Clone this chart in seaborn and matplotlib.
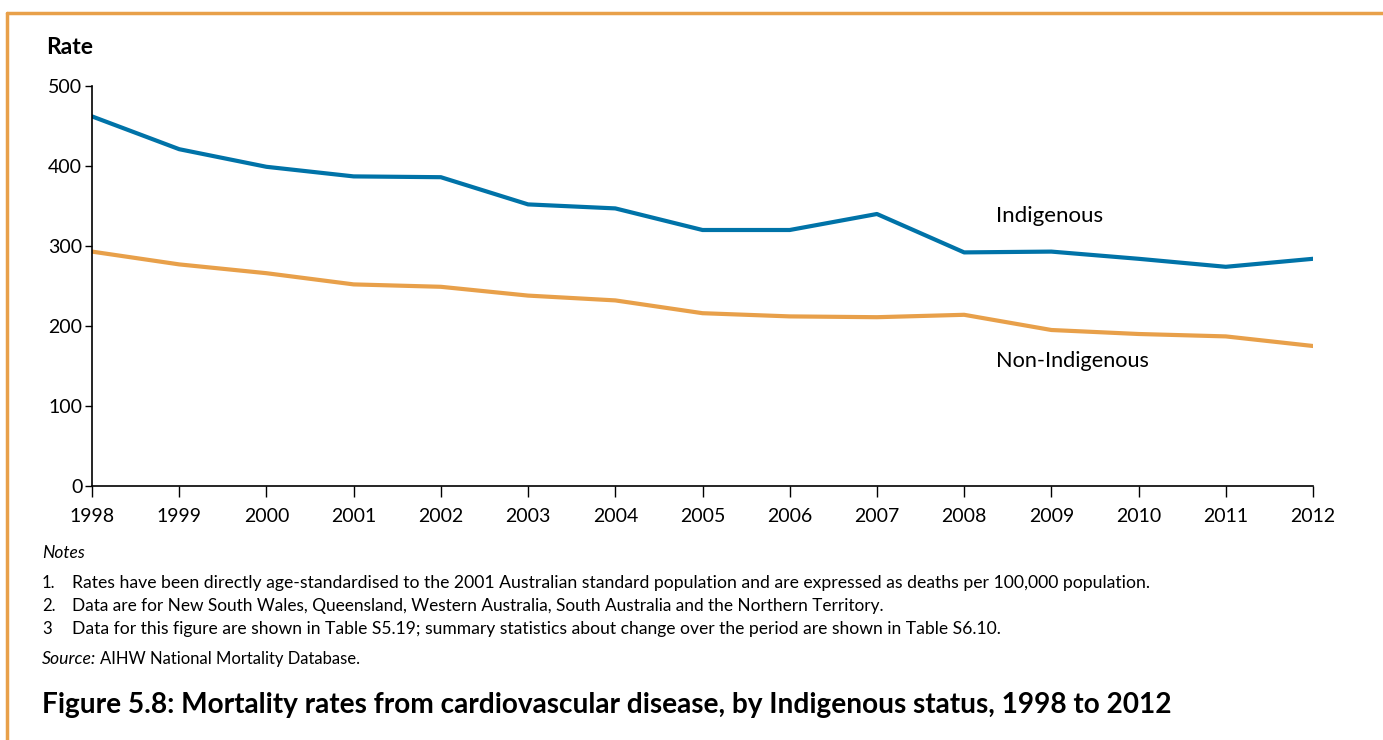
import numpy as np
import pandas as pd
import matplotlib.pyplot as plt
import seaborn as sns
from matplotlib.lines import Line2D

sns.set_theme(style="white")
plt.rcParams["font.family"] = ["Lato", "DejaVu Sans"]
for k in ["text.color", "axes.labelcolor", "xtick.color", "ytick.color"]:
    plt.rcParams[k] = "black"

# Data
years = list(range(1998, 2013))
indigenous = [462, 421, 399, 387, 386, 352, 347, 320, 320, 340, 292, 293, 284, 274, 284]
non_indigenous = [293, 277, 266, 252, 249, 238, 232, 216, 212, 211, 214, 195, 190, 187, 175]
groups = ["Indigenous", "Non-Indigenous"]
colours = {"Indigenous": "#0073A8", "Non-Indigenous": "#E8A04A"}

notes = [
    ("1.", "Rates have been directly age-standardised to the 2001 Australian standard population and are expressed as deaths per 100,000 population."),
    ("2.", "Data are for New South Wales, Queensland, Western Australia, South Australia and the Northern Territory."),
    ("3", "Data for this figure are shown in Table S5.19; summary statistics about change over the period are shown in Table S6.10."),
]
title = "Figure 5.8: Mortality rates from cardiovascular disease, by Indigenous status, 1998 to 2012"

df = pd.DataFrame({
    "year": years * 2,
    "rate": indigenous + non_indigenous,
    "group": [groups[0]] * len(years) + [groups[1]] * len(years),
})

W, H = 1383, 740
fig = plt.figure(figsize=(W / 100, H / 100), dpi=100)
ax = fig.add_axes([92 / W, 1 - 486 / H, (1313 - 92) / W, 400 / H])

sns.lineplot(data=df, x="year", y="rate", hue="group", palette=colours,
             linewidth=3, legend=False, ax=ax)

ax.set_xlim(1998, 2012)
ax.set_ylim(0, 500)
ax.set_xticks(years)
ax.set_yticks(range(0, 501, 100))
ax.set_xlabel("")
ax.set_ylabel("")
for s in ["top", "right"]:
    ax.spines[s].set_visible(False)
for s in ["left", "bottom"]:
    ax.spines[s].set_color("black")
    ax.spines[s].set_linewidth(1.2)
ax.tick_params(axis="x", direction="out", length=8, width=1, color="black",
               labelsize=14, pad=8, bottom=True)
ax.tick_params(axis="y", direction="out", length=5, width=1, color="black",
               labelsize=14, pad=2, left=True)

ax.text(2008.36, 337, "Indigenous", fontsize=16, va="center", ha="left")
ax.text(2008.36, 156, "Non-Indigenous", fontsize=15.6, va="center", ha="left")

renderer = fig.canvas.get_renderer()


def fit(t, width_px):
    # shrink/grow a text so its width matches the reference
    w = t.get_window_extent(renderer).width
    t.set_fontsize(t.get_fontsize() * width_px / w)
    return t


fig.text(46 / W, 1 - 47 / H, "Rate", fontsize=16.5, fontweight="bold", va="center")
fig.text(42 / W, 1 - 553 / H, "Notes", fontsize=12.5, style="italic", va="center")
widths = [1076, 810, 922]
for i, (num, txt) in enumerate(notes):
    y = 1 - (583 + 23 * i) / H
    fig.text(42 / W, y, num, fontsize=12, va="center")
    fit(fig.text(72 / W, y, txt, fontsize=12, va="center"), widths[i])
src = fig.text(42 / W, 1 - 659 / H, "Source:", fontsize=12, style="italic", va="center")
fit(src, 54)
fig.text(100 / W, 1 - 659 / H, "AIHW National Mortality Database.", fontsize=12, va="center")
fit(fig.text(42 / W, 1 - 705 / H, title, fontsize=18, fontweight="bold", va="center"), 1133)

# Orange frame (top and left)
fig.add_artist(Line2D([7 / W, 1], [1 - 13 / H, 1 - 13 / H], color="#E8A04A", lw=2.5))
fig.add_artist(Line2D([7 / W, 7 / W], [0, 1 - 13 / H], color="#E8A04A", lw=2.5))

fig.savefig("out.png", dpi=100)
